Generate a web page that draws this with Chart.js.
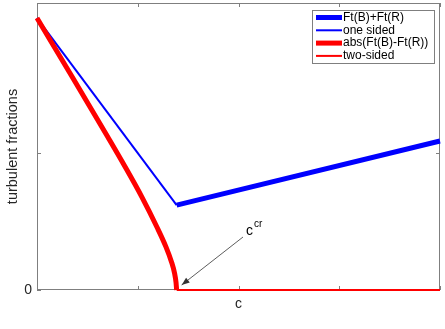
<!DOCTYPE html>
<html lang="en">
<head>
    <meta charset="UTF-8">
    <title>turbulent fractions</title>
    <script src="https://cdn.jsdelivr.net/npm/chart.js"></script>
    <style>
        html, body { margin: 0; padding: 0; background: #fff; }
        #wrap { width: 445px; height: 329px; }
    </style>
</head>
<body>
    <div id="wrap"><canvas id="chart" width="445" height="329"></canvas></div>

    <script>
        // data (x in tick units, c at x = 2)
        const xCr = 1.386;
        const sumX = [1.386, 4];
        const sumY = [0.62, 1.088];
        const oneSidedX = [0, 1.386];
        const oneSidedY = [1.985, 0.62];
        const absX = [0, 0.35, 0.7, 0.87, 1.04, 1.19, 1.28, 1.335, 1.366, 1.38, 1.386];
        const absY = [1.985, 1.555, 1.12, 0.905, 0.68, 0.46, 0.315, 0.205, 0.12, 0.055, 0];
        const twoSidedX = [1.386, 4];
        const twoSidedY = [0, 0];
        const xTicks = [0, 1, 2, 3, 4];
        const xTickLabels = ["", "", "c", "", ""];
        const yTicks = [0, 1];
        const yTickLabels = ["0", ""];

        const pts = (xs, ys) => xs.map((x, i) => ({ x: x, y: ys[i] }));
        const FONT = "'Liberation Sans', Arial, sans-serif";
        const TXT = "#262626";
        const AX = "#7f7f7f";

        // box + inward ticks, matlab style (drawn under the lines)
        const boxPlugin = {
            id: "box",
            beforeDatasetsDraw(chart) {
                const { ctx, chartArea: a, scales } = chart;
                ctx.save();
                ctx.strokeStyle = AX;
                ctx.lineWidth = 1;
                ctx.strokeRect(a.left + 0.5, a.top + 0.5, a.right - a.left - 1, a.bottom - a.top - 1);
                ctx.beginPath();
                xTicks.forEach(v => {
                    const px = Math.round(scales.x.getPixelForValue(v)) + 0.5;
                    ctx.moveTo(px, a.bottom); ctx.lineTo(px, a.bottom - 4);
                    ctx.moveTo(px, a.top); ctx.lineTo(px, a.top + 4);
                });
                yTicks.forEach(v => {
                    const py = Math.round(scales.y.getPixelForValue(v)) + 0.5;
                    ctx.moveTo(a.left, py); ctx.lineTo(a.left + 4, py);
                    ctx.moveTo(a.right, py); ctx.lineTo(a.right - 4, py);
                });
                ctx.stroke();
                ctx.restore();
            }
        };

        // c^cr annotation with arrow
        const notePlugin = {
            id: "note",
            afterDraw(chart) {
                const { ctx, scales } = chart;
                const tx = scales.x.getPixelForValue(xCr) + 5;
                const ty = scales.y.getPixelForValue(0) - 5;
                const fx = 243, fy = 237;
                ctx.save();
                ctx.strokeStyle = "#333";
                ctx.fillStyle = "#333";
                ctx.lineWidth = 0.8;
                ctx.beginPath();
                ctx.moveTo(fx, fy);
                ctx.lineTo(tx, ty);
                ctx.stroke();
                const ang = Math.atan2(ty - fy, tx - fx);
                const L = 8, W = 3;
                ctx.beginPath();
                ctx.moveTo(tx, ty);
                ctx.lineTo(tx - L * Math.cos(ang) + W * Math.sin(ang), ty - L * Math.sin(ang) - W * Math.cos(ang));
                ctx.lineTo(tx - L * Math.cos(ang) - W * Math.sin(ang), ty - L * Math.sin(ang) + W * Math.cos(ang));
                ctx.closePath();
                ctx.fill();
                ctx.fillStyle = "#000";
                ctx.textBaseline = "alphabetic";
                ctx.font = "14px " + FONT;
                ctx.fillText("c", 246, 235);
                ctx.font = "10px " + FONT;
                ctx.fillText("cr", 254, 227);
                ctx.restore();
            }
        };

        // legend box in the top right corner
        const legendPlugin = {
            id: "legendBox",
            afterDraw(chart) {
                const { ctx } = chart;
                const x0 = 312, y0 = 10, w = 122, h = 53;
                ctx.save();
                ctx.fillStyle = "#fff";
                ctx.fillRect(x0, y0, w, h);
                ctx.strokeStyle = AX;
                ctx.lineWidth = 1;
                ctx.strokeRect(x0 + 0.5, y0 + 0.5, w, h);
                ctx.font = "12px " + FONT;
                ctx.textBaseline = "middle";
                chart.data.datasets.forEach((ds, i) => {
                    const y = y0 + 7.5 + i * 12.8;
                    ctx.strokeStyle = ds.borderColor;
                    ctx.lineWidth = ds.borderWidth;
                    ctx.beginPath();
                    ctx.moveTo(x0 + 4, y);
                    ctx.lineTo(x0 + 30, y);
                    ctx.stroke();
                    ctx.fillStyle = "#000";
                    ctx.fillText(ds.label, x0 + 31, y);
                });
                ctx.restore();
            }
        };

        new Chart(document.getElementById("chart"), {
            type: "scatter",
            data: {
                datasets: [
                    { label: "Ft(B)+Ft(R)", data: pts(sumX, sumY), borderColor: "#0000ff", borderWidth: 5, order: 2 },
                    { label: "one sided", data: pts(oneSidedX, oneSidedY), borderColor: "#0000ff", borderWidth: 2, order: 3 },
                    { label: "abs(Ft(B)-Ft(R))", data: pts(absX, absY), borderColor: "#ff0000", borderWidth: 5, order: 0, cubicInterpolationMode: "monotone" },
                    { label: "two-sided", data: pts(twoSidedX, twoSidedY), borderColor: "#ff0000", borderWidth: 2, order: 1 }
                ].map(d => Object.assign({ showLine: true, pointRadius: 0, fill: false, clip: false, backgroundColor: d.borderColor }, d))
            },
            options: {
                responsive: false,
                animation: false,
                layout: { padding: { top: 3, right: 5, left: 0, bottom: 0 } },
                plugins: {
                    legend: { display: false },
                    tooltip: { enabled: false }
                },
                scales: {
                    x: {
                        type: "linear",
                        min: 0,
                        max: 4,
                        afterBuildTicks: s => { s.ticks = xTicks.map(v => ({ value: v })); },
                        afterFit: s => { s.height = 39; s.paddingLeft = 0; s.paddingRight = 0; },
                        grid: { display: false, tickLength: 0 },
                        border: { display: false },
                        ticks: {
                            padding: 6,
                            color: TXT,
                            font: { family: FONT, size: 14 },
                            callback: (v) => xTickLabels[xTicks.indexOf(v)] ?? ""
                        }
                    },
                    y: {
                        min: 0,
                        max: 2.095,
                        afterBuildTicks: s => { s.ticks = yTicks.map(v => ({ value: v })); },
                        afterFit: s => { s.width = 37; s.paddingTop = 0; s.paddingBottom = 0; },
                        grid: { display: false, tickLength: 0 },
                        border: { display: false },
                        title: {
                            display: true,
                            text: "turbulent fractions",
                            color: TXT,
                            font: { family: FONT, size: 14.5 },
                            padding: { top: 4, bottom: 0 }
                        },
                        ticks: {
                            padding: 5,
                            color: TXT,
                            font: { family: FONT, size: 14 },
                            callback: (v) => yTickLabels[yTicks.indexOf(v)] ?? ""
                        }
                    }
                }
            },
            plugins: [boxPlugin, notePlugin, legendPlugin]
        });
    </script>
</body>
</html>
